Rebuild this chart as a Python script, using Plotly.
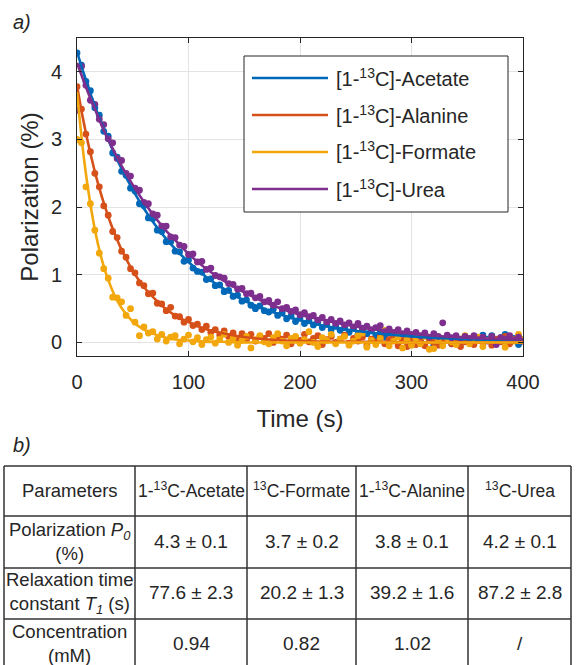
import plotly.graph_objects as go

# ---------------- data ----------------
time_s = list(range(0, 404, 4))

acetate_pts = [4.28, 4.10, 3.86, 3.72, 3.47, 3.36, 3.12, 3.05, 2.80, 2.74, 2.53, 2.47, 2.28, 2.24, 2.05, 2.02,
               1.84, 1.83, 1.66, 1.64, 1.49, 1.49, 1.35, 1.34, 1.20, 1.22, 1.10, 1.05, 1.04, 0.93, 0.94, 0.84,
               0.85, 0.75, 0.77, 0.68, 0.70, 0.61, 0.63, 0.55, 0.50, 0.54, 0.47, 0.45, 0.49, 0.40, 0.44, 0.35,
               0.39, 0.31, 0.36, 0.28, 0.32, 0.26, 0.30, 0.22, 0.27, 0.19, 0.24, 0.18, 0.22, 0.15, 0.21, 0.12,
               0.19, 0.13, 0.17, 0.10, 0.16, 0.08, 0.14, 0.09, 0.12, 0.05, 0.13, 0.06, 0.11, 0.03, 0.10, 0.06,
               -0.04, 0.08, 0.04, 0.09, -0.02, 0.07, 0.03, 0.06, 0.00, 0.08, 0.04, 0.11, 0.05, 0.10, 0.03, 0.07,
               0.12, 0.02, 0.06, -0.03, 0.04]
alanine_pts = [3.78, 3.45, 3.08, 2.82, 2.50, 2.30, 2.02, 1.88, 1.64, 1.55, 1.35, 1.26, 1.09, 1.03, 0.88, 0.84,
               0.72, 0.73, 0.58, 0.57, 0.47, 0.52, 0.39, 0.38, 0.30, 0.34, 0.25, 0.27, 0.19, 0.24, 0.15, 0.19,
               0.11, 0.17, 0.09, 0.14, 0.06, 0.13, 0.04, 0.12, 0.02, 0.09, 0.06, 0.13, 0.00, 0.08, 0.05, 0.11,
               -0.02, 0.07, 0.03, 0.12, 0.01, 0.06, 0.10, -0.03, 0.04, 0.09, 0.00, 0.05, 0.11, -0.01, 0.06, 0.02,
               0.08, -0.04, 0.05, 0.01, 0.09, -0.02, 0.04, 0.07, -0.05, 0.03, -0.06, 0.06, -0.03, 0.02, -0.05, 0.05,
               0.00, -0.04, 0.03, 0.08, -0.02, 0.04, -0.06, 0.01, 0.05, -0.03, 0.07, 0.00, 0.03, -0.04, 0.05, 0.01,
               0.09, -0.02, 0.04, 0.08, 0.02]
formate_pts = [3.00, 2.95, 2.30, 2.05, 1.66, 1.32, 1.09, 0.95, 0.67, 0.66, 0.60, 0.40, 0.50, 0.30, 0.10, 0.23,
               0.14, 0.16, 0.05, 0.12, 0.02, 0.08, 0.10, -0.02, 0.05, 0.11, 0.01, 0.07, -0.03, 0.04, 0.08, -0.01,
               0.05, 0.12, 0.00, 0.06, -0.04, 0.03, 0.09, -0.08, 0.04, 0.10, 0.01, -0.02, 0.07, 0.13, 0.02, -0.05,
               0.06, 0.09, -0.01, 0.04, 0.16, 0.00, -0.06, 0.07, 0.03, 0.12, -0.02, 0.05, 0.09, -0.04, 0.02, 0.10,
               0.14, -0.07, 0.03, -0.03, 0.06, 0.18, -0.05, 0.02, 0.08, -0.08, 0.04, -0.04, 0.06, -0.02, 0.09, -0.10,
               -0.09, 0.03, -0.05, 0.07, 0.01, -0.03, 0.05, 0.10, -0.02, 0.04, 0.08, -0.06, 0.03, 0.06, -0.01, 0.05,
               -0.07, 0.09, 0.02, 0.12, 0.04]
urea_pts = [3.43, 4.08, 3.80, 3.58, 3.52, 3.30, 3.22, 3.01, 2.95, 2.72, 2.69, 2.50, 2.46, 2.28, 2.25, 2.07,
            2.05, 1.90, 1.88, 1.72, 1.72, 1.56, 1.55, 1.44, 1.42, 1.30, 1.31, 1.19, 1.20, 1.08, 1.10, 0.99,
            0.97, 0.95, 0.87, 0.86, 0.79, 0.80, 0.72, 0.73, 0.66, 0.68, 0.60, 0.62, 0.55, 0.60, 0.50, 0.52,
            0.46, 0.48, 0.41, 0.44, 0.38, 0.40, 0.33, 0.37, 0.30, 0.34, 0.28, 0.32, 0.26, 0.29, 0.23, 0.28,
            0.21, 0.24, 0.19, 0.22, 0.25, 0.16, 0.20, 0.15, 0.19, 0.13, 0.17, 0.12, 0.15, 0.10, 0.14, 0.08,
            0.13, 0.09, 0.29, 0.11, 0.07, 0.10, 0.05, 0.09, 0.06, 0.10, 0.04, 0.08, 0.02, 0.09, -0.03, 0.07,
            0.05, 0.10, 0.03, 0.08, 0.02]

fit_time = [0, 5, 10, 15, 20, 25, 30, 35, 40, 50, 60, 70, 80, 90, 100, 115, 130, 150, 175, 200, 230, 260, 300, 350, 400]
acetate_fit = [4.30, 4.03, 3.78, 3.54, 3.32, 3.12, 2.92, 2.74, 2.57, 2.26, 1.98, 1.74, 1.53, 1.35, 1.19, 0.98,
               0.81, 0.62, 0.45, 0.33, 0.22, 0.15, 0.09, 0.05, 0.03]
alanine_fit = [3.80, 3.34, 2.94, 2.59, 2.28, 2.01, 1.77, 1.56, 1.37, 1.06, 0.82, 0.64, 0.49, 0.38, 0.30, 0.20,
               0.14, 0.08, 0.04, 0.02, 0.01, 0.01, 0.00, 0.00, 0.00]
formate_fit = [3.70, 2.89, 2.26, 1.76, 1.37, 1.07, 0.84, 0.65, 0.51, 0.31, 0.19, 0.12, 0.07, 0.04, 0.03, 0.01,
               0.01, 0.00, 0.00, 0.00, 0.00, 0.00, 0.00, 0.00, 0.00]
urea_fit = [4.13, 3.91, 3.69, 3.49, 3.29, 3.10, 2.93, 2.77, 2.61, 2.33, 2.08, 1.85, 1.65, 1.48, 1.31, 1.10,
            0.93, 0.74, 0.55, 0.41, 0.30, 0.21, 0.13, 0.07, 0.04]

series_names = ["[1-<sup>13</sup>C]-Acetate", "[1-<sup>13</sup>C]-Alanine",
                "[1-<sup>13</sup>C]-Formate", "[1-<sup>13</sup>C]-Urea"]
series_colors = ["#0068B8", "#D6501A", "#F2A70C", "#7E2F8E"]

x_ticks = [0, 100, 200, 300, 400]
y_ticks = [0, 1, 2, 3, 4]

table_header = ["Parameters", "1-<sup>13</sup>C-Acetate", "<sup>13</sup>C-Formate",
                "1-<sup>13</sup>C-Alanine", "<sup>13</sup>C-Urea"]
table_rows = [
    ["Polarization <i>P</i><sub><i>0</i></sub><br>(%)", "4.3 ± 0.1", "3.7 ± 0.2", "3.8 ± 0.1", "4.2 ± 0.1"],
    ["Relaxation time<br>constant <i>T</i><sub><i>1</i></sub> (s)", "77.6 ± 2.3", "20.2 ± 1.3", "39.2 ± 1.6", "87.2 ± 2.8"],
    ["Concentration<br>(mM)", "0.94", "0.82", "1.02", "/"],
]

# ---------------- layout helpers ----------------
W, H = 576, 665
FONT = "Liberation Sans, Arial, sans-serif"
INK = "#262626"


def px(x):
    return x / W


def py(y):
    return 1 - y / H


fig = go.Figure()

pts = [acetate_pts, alanine_pts, formate_pts, urea_pts]
fits = [acetate_fit, alanine_fit, formate_fit, urea_fit]

for name, col, p in zip(series_names, series_colors, pts):
    fig.add_trace(go.Scatter(x=time_s, y=p, mode="markers", name=name, showlegend=False,
                             marker=dict(color=col, size=6.8, line=dict(width=0))))
for name, col, f in zip(series_names, series_colors, fits):
    fig.add_trace(go.Scatter(x=fit_time, y=f, mode="lines", name=name, showlegend=False,
                             line=dict(color=col, width=2.6, shape="spline", smoothing=0.6)))

axis_common = dict(showline=True, linecolor=INK, linewidth=1, mirror="ticks",
                   ticks="inside", ticklen=5, tickcolor=INK, automargin=False,
                   showgrid=True, gridcolor="#E3E3E3", gridwidth=1, zeroline=False,
                   tickfont=dict(family=FONT, size=20, color=INK))

fig.update_xaxes(domain=[px(77), px(523)], range=[0, 400], tickvals=x_ticks,
                 title=dict(text="Time (s)", font=dict(family=FONT, size=24, color=INK), standoff=18),
                 ticklabelstandoff=8, **axis_common)
fig.update_yaxes(domain=[py(356), py(38)], range=[-0.2, 4.5], tickvals=y_ticks,
                 title=dict(text="Polarization (%)", font=dict(family=FONT, size=24, color=INK), standoff=5),
                 ticklabelstandoff=10, **axis_common)

shapes = []
annotations = []

# panel labels
annotations.append(dict(text="<i>a)</i>", x=px(11), y=py(22), xref="paper", yref="paper",
                        xanchor="left", yanchor="middle", showarrow=False,
                        font=dict(family=FONT, size=20, color=INK)))
annotations.append(dict(text="<i>b)</i>", x=px(11), y=py(445), xref="paper", yref="paper",
                        xanchor="left", yanchor="middle", showarrow=False,
                        font=dict(family=FONT, size=20, color=INK)))

# legend box (drawn manually to match the reference spacing)
shapes.append(dict(type="rect", xref="paper", yref="paper", x0=px(244), x1=px(508),
                   y0=py(212), y1=py(56), line=dict(color=INK, width=1), fillcolor="white", layer="above"))
legend_rows = [78, 115, 152, 189]
for name, col, yr in zip(series_names, series_colors, legend_rows):
    shapes.append(dict(type="line", xref="paper", yref="paper", x0=px(252), x1=px(328),
                       y0=py(yr), y1=py(yr), line=dict(color=col, width=2.6), layer="above"))
    annotations.append(dict(text=name, x=px(334), y=py(yr - 1), xref="paper", yref="paper",
                            xanchor="left", yanchor="middle", showarrow=False,
                            font=dict(family=FONT, size=20, color=INK)))

# table grid
col_edges = [4, 135, 247, 356, 468, 571]
row_edges = [466, 516, 568, 619, 670]
for xe in col_edges:
    shapes.append(dict(type="line", xref="paper", yref="paper", x0=px(xe), x1=px(xe),
                       y0=py(row_edges[0]), y1=py(row_edges[-1]), line=dict(color="#333333", width=1.5)))
for ye in row_edges:
    shapes.append(dict(type="line", xref="paper", yref="paper", x0=px(col_edges[0]), x1=px(col_edges[-1]),
                       y0=py(ye), y1=py(ye), line=dict(color="#333333", width=1.5)))

all_rows = [table_header] + table_rows
for r, row in enumerate(all_rows):
    yc = (row_edges[r] + row_edges[r + 1]) / 2
    for c, txt in enumerate(row):
        xc = (col_edges[c] + col_edges[c + 1]) / 2
        if r == 0 and c > 0:
            size = 17.5
        elif c == 0:
            size = 18.5
        else:
            size = 19
        annotations.append(dict(text=txt, x=px(xc), y=py(yc - 1), xref="paper", yref="paper",
                                xanchor="center", yanchor="middle", showarrow=False, align="center",
                                font=dict(family=FONT, size=size, color=INK)))

fig.update_layout(
    width=W, height=H,
    margin=dict(l=0, r=0, t=0, b=0, pad=0),
    paper_bgcolor="white", plot_bgcolor="white",
    font=dict(family=FONT, color=INK),
    shapes=shapes, annotations=annotations,
    showlegend=False,
)

fig.write_html("out.html",
               config={"displayModeBar": False},
               post_script="document.body.style.margin='0';document.body.style.padding='0';"
                           "document.body.style.overflow='hidden';")
